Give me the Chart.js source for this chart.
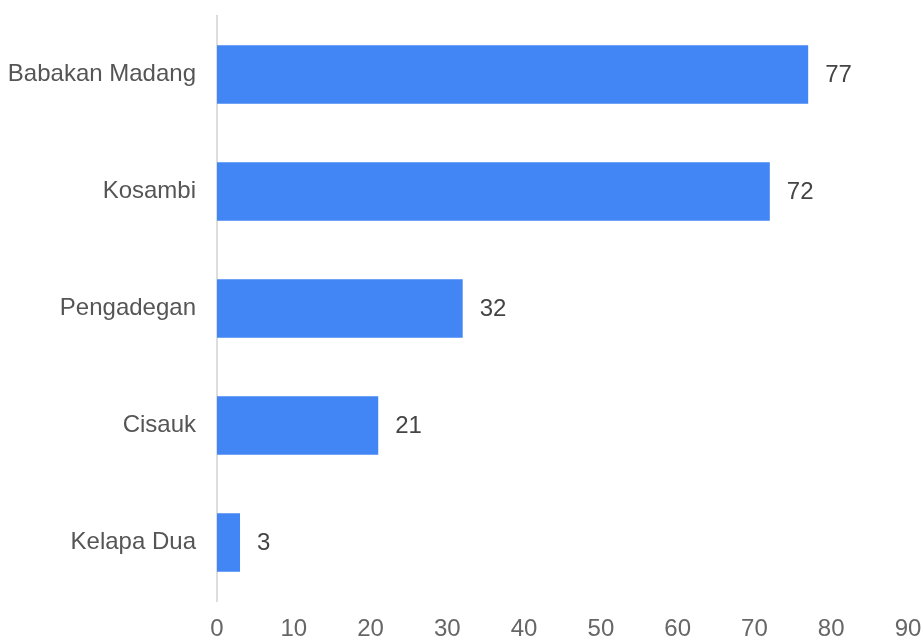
<!DOCTYPE html>
<html>
<head>
<meta charset="utf-8">
<title>Horizontal bar chart</title>
<script src="https://cdn.jsdelivr.net/npm/chart.js@4/dist/chart.umd.min.js"></script>
<style>
  html, body { margin: 0; padding: 0; background: #ffffff; }
  #wrap { width: 924px; height: 640px; }
</style>
</head>
<body>
<div id="wrap"><canvas id="chart" width="924" height="640"></canvas></div>
<script>
// Villages and their counts
const categories = ['Babakan Madang', 'Kosambi', 'Pengadegan', 'Cisauk', 'Kelapa Dua'];
const values = [77, 72, 32, 21, 3];
const xTicks = [0, 10, 20, 30, 40, 50, 60, 70, 80, 90];

const FONT = '"Liberation Sans", Arial, Helvetica, sans-serif';

// Writes each bar's value just past its end
const valueLabels = {
  id: 'valueLabels',
  afterDatasetsDraw(chart) {
    const ctx = chart.ctx;
    const meta = chart.getDatasetMeta(0);
    ctx.save();
    ctx.font = '24px ' + FONT;
    ctx.fillStyle = '#444444';
    ctx.textAlign = 'left';
    ctx.textBaseline = 'middle';
    meta.data.forEach((bar, i) => {
      ctx.fillText(String(values[i]), bar.x + 17, bar.y + 1);
    });
    ctx.restore();
  }
};

new Chart(document.getElementById('chart'), {
  type: 'bar',
  data: {
    labels: categories,
    datasets: [{
      data: values,
      backgroundColor: '#4285F4',
      borderWidth: 0,
      barPercentage: 0.5,
      categoryPercentage: 1.0
    }]
  },
  options: {
    indexAxis: 'y',
    responsive: false,
    animation: false,
    devicePixelRatio: 1,
    layout: { padding: { top: 16, right: 16, bottom: 0, left: 0 } },
    plugins: {
      legend: { display: false },
      tooltip: { enabled: false }
    },
    scales: {
      x: {
        min: 0,
        max: 90,
        afterBuildTicks(scale) {
          scale.ticks = xTicks.map(v => ({ value: v }));
        },
        afterFit(scale) {
          scale.height = 39;
          scale.paddingLeft = 0;
          scale.paddingRight = 0;
        },
        grid: { display: false, drawTicks: false },
        border: { display: false },
        ticks: {
          color: '#666666',
          padding: 14,
          maxRotation: 0,
          font: { family: FONT, size: 24 }
        }
      },
      y: {
        afterFit(scale) {
          scale.width = 217;
          scale.paddingTop = 0;
          scale.paddingBottom = 0;
        },
        grid: { display: false, drawTicks: false },
        border: { display: true, color: '#dddddd', width: 2 },
        ticks: {
          color: '#555555',
          padding: 21,
          font: { family: FONT, size: 24 }
        }
      }
    }
  },
  plugins: [valueLabels]
});
</script>
</body>
</html>
